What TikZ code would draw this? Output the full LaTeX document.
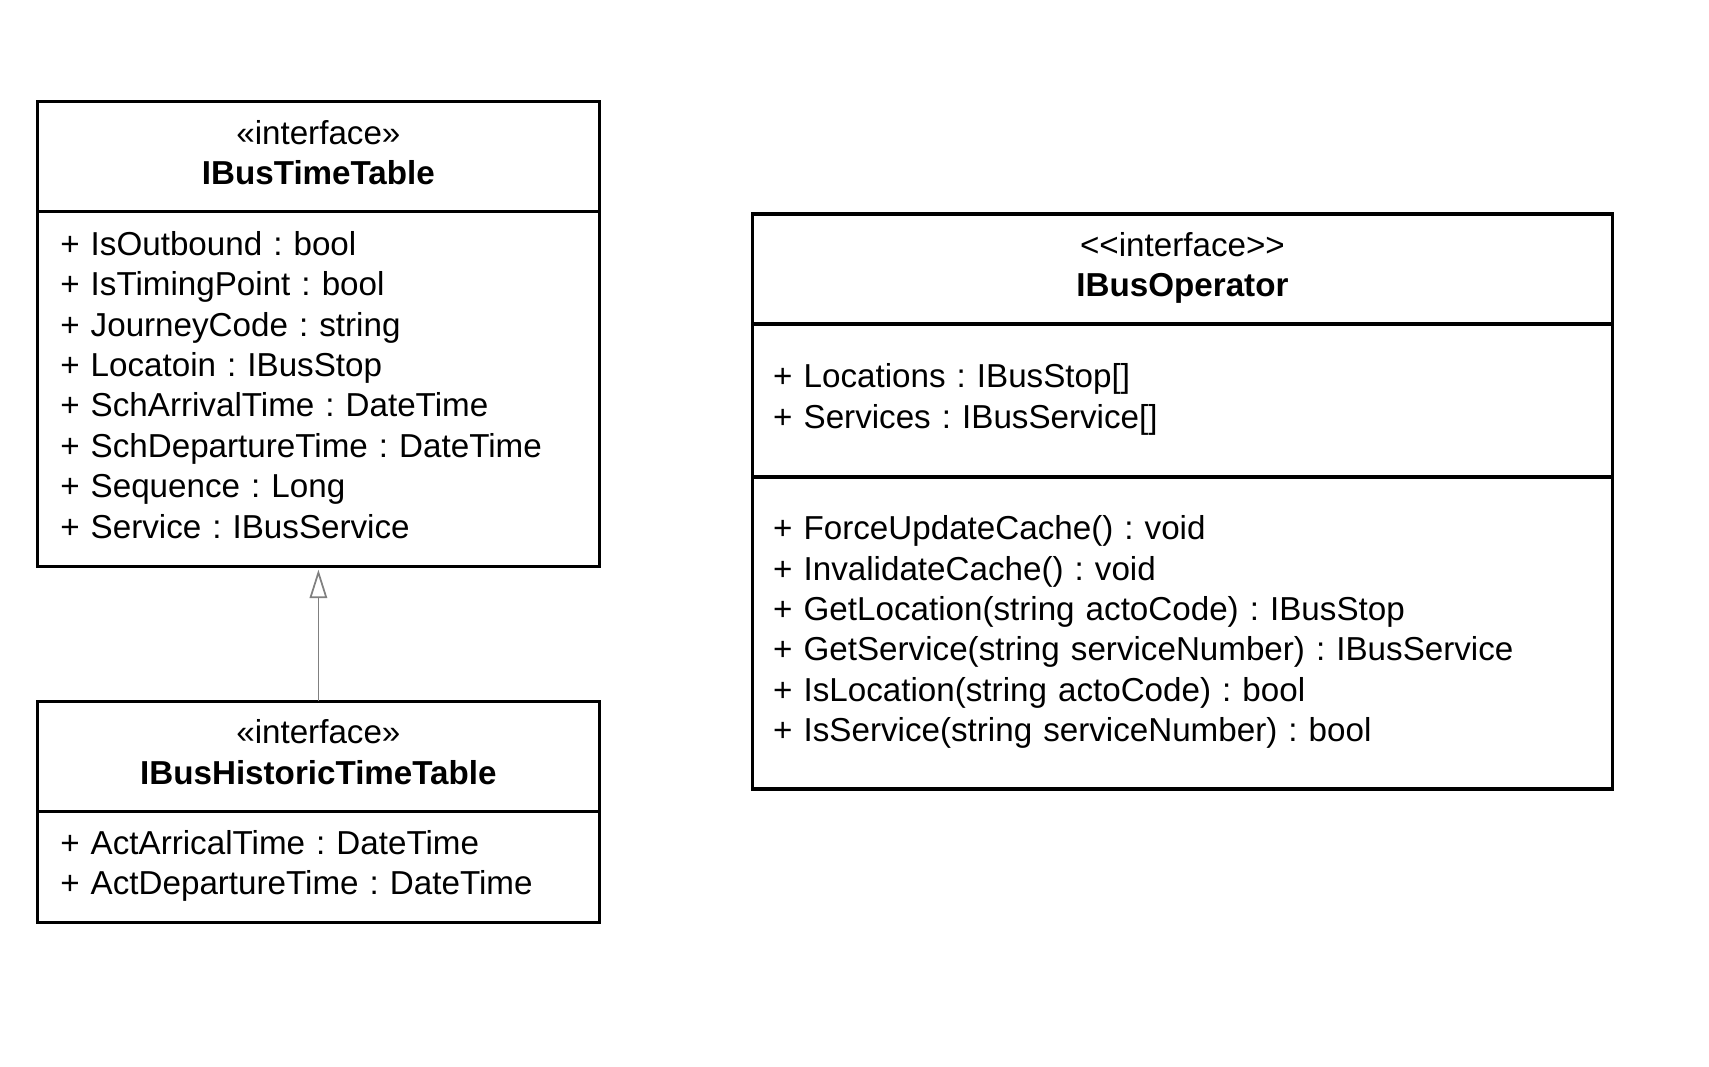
\documentclass[tikz,border=0pt]{standalone}
\usepackage{fontspec}
\setmainfont{Liberation Sans}
\usetikzlibrary{arrows.meta,positioning}
\frenchspacing

\newcommand{\topstr}{\rule{0pt}{12pt}}
\newcommand{\botstr}{\rule[-5pt]{0pt}{5pt}}

\tikzset{
  umlbox/.style={draw, line width=1.5pt, inner sep=0pt, outer sep=0pt, font=\fontsize{15.2}{18.5}\selectfont},
  lefthead/.style={umlbox, align=center, minimum width=257.5pt, minimum height=50.5pt},
  leftpart/.style={umlbox, align=left, text width=236.5pt, inner xsep=10.5pt},
  righthead/.style={umlbox, align=center, minimum width=394pt, minimum height=50.5pt},
  rightpart/.style={umlbox, align=left, text width=375pt, inner xsep=9.5pt},
  realizes/.style={draw=gray, line width=0.8pt, -{Triangle[open, length=13pt, width=8pt]}}
}

\begin{document}
\begin{tikzpicture}[x=0.5pt, y=-0.5pt]
        \useasboundingbox (0,0) rectangle (1566,977.7);
        % IBusTimeTable
        \node[lefthead] (ttHead) at (291.75,143.5) {\topstr«interface»\\\textbf{IBusTimeTable}\botstr};
        \node[leftpart, minimum height=162.5pt, below=0pt of ttHead] (ttAttr) {\topstr+ IsOutbound : bool\\+ IsTimingPoint : bool\\+ JourneyCode : string\\+ Locatoin : IBusStop\\+ SchArrivalTime : DateTime\\+ SchDepartureTime : DateTime\\+ Sequence : Long\\+ Service : IBusService\botstr};
        % IBusHistoricTimeTable
        \node[lefthead] (histHead) at (291.75,693) {\topstr«interface»\\\textbf{IBusHistoricTimeTable}\botstr};
        \node[leftpart, minimum height=51pt, below=0pt of histHead] (histAttr) {\topstr+ ActArricalTime : DateTime\\+ ActDepartureTime : DateTime\botstr};
        % IBusOperator
        \node[righthead] (opHead) at (1083.5,246.5) {\topstr<{}<interface>{}>\\\textbf{IBusOperator}\botstr};
        \node[rightpart, minimum height=70pt, below=0pt of opHead] (opAttr) {\topstr+ Locations : IBusStop[]\\+ Services : IBusService[]\botstr};
        \node[rightpart, minimum height=143pt, below=0pt of opAttr] (opOps) {\topstr+ ForceUpdateCache() : void\\+ InvalidateCache() : void\\+ GetLocation(string actoCode) : IBusStop\\+ GetService(string serviceNumber) : IBusService\\+ IsLocation(string actoCode) : bool\\+ IsService(string serviceNumber) : bool\botstr};
        % inheritance
        \draw[realizes, shorten >=1.5pt] (histHead.north) -- (ttAttr.south);
\end{tikzpicture}
\end{document}
